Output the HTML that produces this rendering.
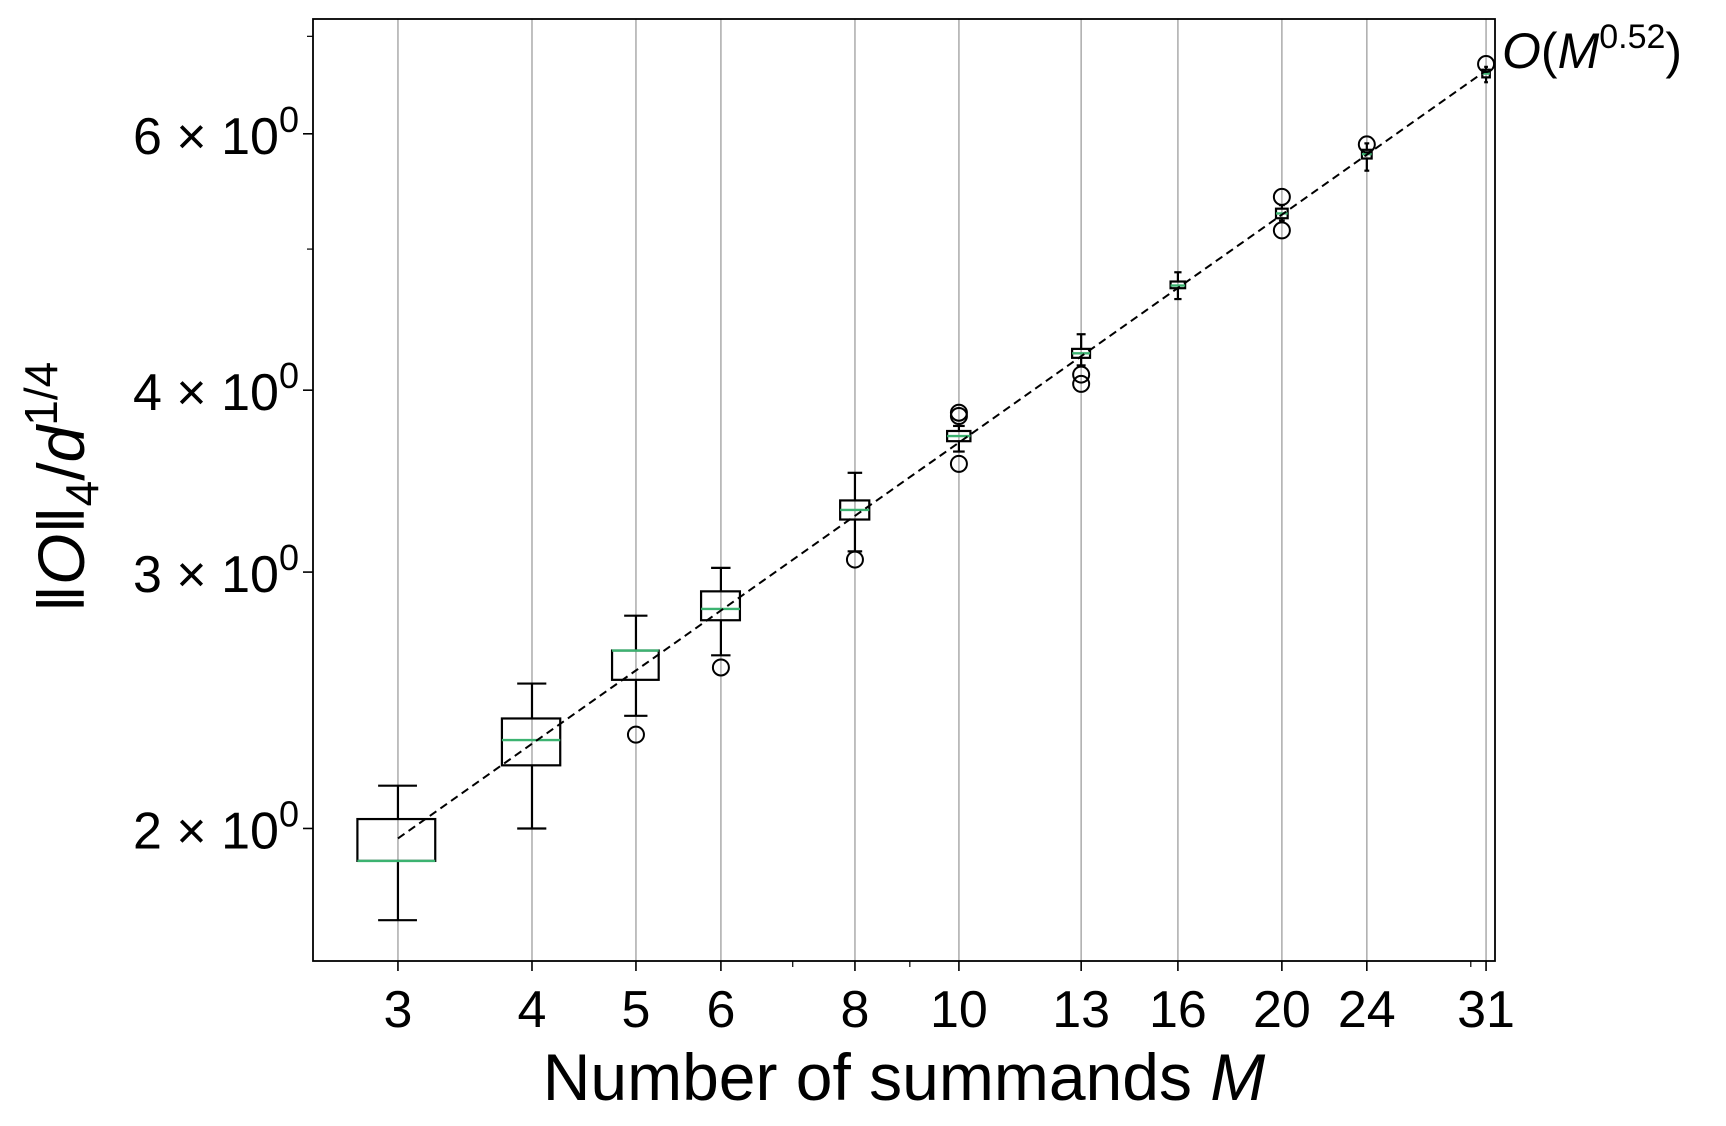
<!DOCTYPE html>
<html><head><meta charset="utf-8">
<style>
html,body{margin:0;padding:0;background:#fff;}
svg{display:block;font-family:"Liberation Sans",Arial,sans-serif;}
</style></head>
<body>
<svg id="chart" width="1726" height="1126" viewBox="0 0 1726 1126" xmlns="http://www.w3.org/2000/svg">
<g id="grid"></g>
<g id="marks"></g>
<rect x="313" y="19" width="1182" height="942" fill="none" stroke="#000" stroke-width="1.8"/>
<g id="axes"></g>
<text x="904" y="1100" font-size="66" text-anchor="middle">Number of summands <tspan font-style="italic">M</tspan></text>
<text transform="translate(84,487) rotate(-90)" font-size="66" text-anchor="middle">‖<tspan font-style="italic">O</tspan>‖<tspan font-size="46" dy="14">4</tspan><tspan dy="-14">/</tspan><tspan font-style="italic">d</tspan><tspan font-size="46" dy="-27">1/4</tspan></text>
<text x="1502" y="68" font-size="50"><tspan font-style="italic">O</tspan>(<tspan font-style="italic">M</tspan><tspan font-size="34" dy="-20">0.52</tspan><tspan dy="20">)</tspan></text>
</svg>
<script>
const categories = [3,4,5,6,8,10,13,16,20,24,31];
const whiskerLow  = [1.73,2.00,2.39,2.63,3.10,3.63,4.16,4.62,5.23,5.66,6.51];
const q1          = [1.90,2.21,2.53,2.78,3.26,3.69,4.21,4.70,5.25,5.77,6.56];
const medians     = [1.90,2.30,2.65,2.83,3.31,3.72,4.24,4.72,5.29,5.81,6.60];
const q3          = [2.03,2.38,2.65,2.91,3.36,3.75,4.27,4.75,5.33,5.85,6.64];
const whiskerHigh = [2.14,2.515,2.80,3.02,3.51,3.78,4.37,4.82,5.36,5.91,6.67];
const outlierM    = [5,6,8,10,10,10,13,13,20,20,24,31];
const outlierV    = [2.32,2.58,3.06,3.86,3.84,3.56,4.10,4.04,5.43,5.15,5.90,6.70];
const yTicks = [2,3,4,6];
const yTickLabels = ["2","3","4","6"];
const yMinor = [5,7];
const xMinor = [7,9,30];
const fitExp = 0.52, fitCoef = 1.112;

const NS="http://www.w3.org/2000/svg";
const L=313,R=1495,T=19,B=961;
const xl0=Math.log10(2.5),xl1=Math.log10(31.6),yl0=0.210,yl1=0.857;
function X(m){return L+(Math.log10(m)-xl0)/(xl1-xl0)*(R-L);}
function Y(v){return B-(Math.log10(v)-yl0)/(yl1-yl0)*(B-T);}
function mk(tag,attrs,parent){const e=document.createElementNS(NS,tag);for(const k in attrs)e.setAttribute(k,attrs[k]);parent.appendChild(e);return e;}
const grid=document.getElementById('grid'),marks=document.getElementById('marks'),axes=document.getElementById('axes');

categories.forEach((m,i)=>{
  const g=mk('line',{x1:X(m),x2:X(m),y1:T,y2:B,stroke:'#b0b0b0','stroke-width':1.6},grid);
  
  
  const t=mk('line',{x1:X(m),x2:X(m),y1:B,y2:B+10,stroke:'#000','stroke-width':1.6},axes);
  
  
  const lb=mk('text',{x:X(m),y:B+66,'font-size':52,'text-anchor':'middle'},axes);
  lb.textContent=String(m);
  
  
});
xMinor.forEach(m=>{
  const t=mk('line',{x1:X(m),x2:X(m),y1:B,y2:B+6,stroke:'#000','stroke-width':1.2},axes);
  
  
});
yTicks.forEach((v,i)=>{
  const t=mk('line',{x1:L-10,x2:L,y1:Y(v),y2:Y(v),stroke:'#000','stroke-width':1.6},axes);
  
  
  const lb=mk('text',{x:L-14,y:Y(v)+20,'font-size':52,'text-anchor':'end'},axes);
  lb.innerHTML=yTickLabels[i]+' \u00d7 10<tspan font-size="36" dy="-22">0</tspan>';
  
  
});
yMinor.forEach(v=>{
  const t=mk('line',{x1:L-6,x2:L,y1:Y(v),y2:Y(v),stroke:'#000','stroke-width':1.2},axes);
  
  
});

categories.forEach((m,i)=>{
  const xa=X(m-0.25),xb=X(m+0.25),xc=X(m),cap1=X(m-0.125),cap2=X(m+0.125);
  const w1=mk('line',{x1:xc,x2:xc,y1:Y(q3[i]),y2:Y(whiskerHigh[i]),stroke:'#000','stroke-width':2.2},marks);
  
  
  const w2=mk('line',{x1:xc,x2:xc,y1:Y(q1[i]),y2:Y(whiskerLow[i]),stroke:'#000','stroke-width':2.2},marks);
  
  
  const c1=mk('line',{x1:cap1,x2:cap2,y1:Y(whiskerHigh[i]),y2:Y(whiskerHigh[i]),stroke:'#000','stroke-width':2.2},marks);
  
  
  const c2=mk('line',{x1:cap1,x2:cap2,y1:Y(whiskerLow[i]),y2:Y(whiskerLow[i]),stroke:'#000','stroke-width':2.2},marks);
  
  
  const bx=mk('rect',{x:xa,y:Y(q3[i]),width:xb-xa,height:Math.max(1,Y(q1[i])-Y(q3[i])),fill:'none',stroke:'#000','stroke-width':2.2},marks);
  
  
  const md=mk('line',{x1:xa,x2:xb,y1:Y(medians[i]),y2:Y(medians[i]),stroke:'#3cb371','stroke-width':2.4},marks);
  
  
});
outlierM.forEach((m,i)=>{
  const o=mk('circle',{cx:X(m),cy:Y(outlierV[i]),r:8,fill:'none',stroke:'#000','stroke-width':2},marks);
  
  
});
const fx0=categories[0],fx1=categories[categories.length-1];
const fit=mk('line',{x1:X(fx0),y1:Y(fitCoef*Math.pow(fx0,fitExp)),x2:X(fx1),y2:Y(fitCoef*Math.pow(fx1,fitExp)),stroke:'#000','stroke-width':2,'stroke-dasharray':'8,5'},marks);


</script>
</body></html>
